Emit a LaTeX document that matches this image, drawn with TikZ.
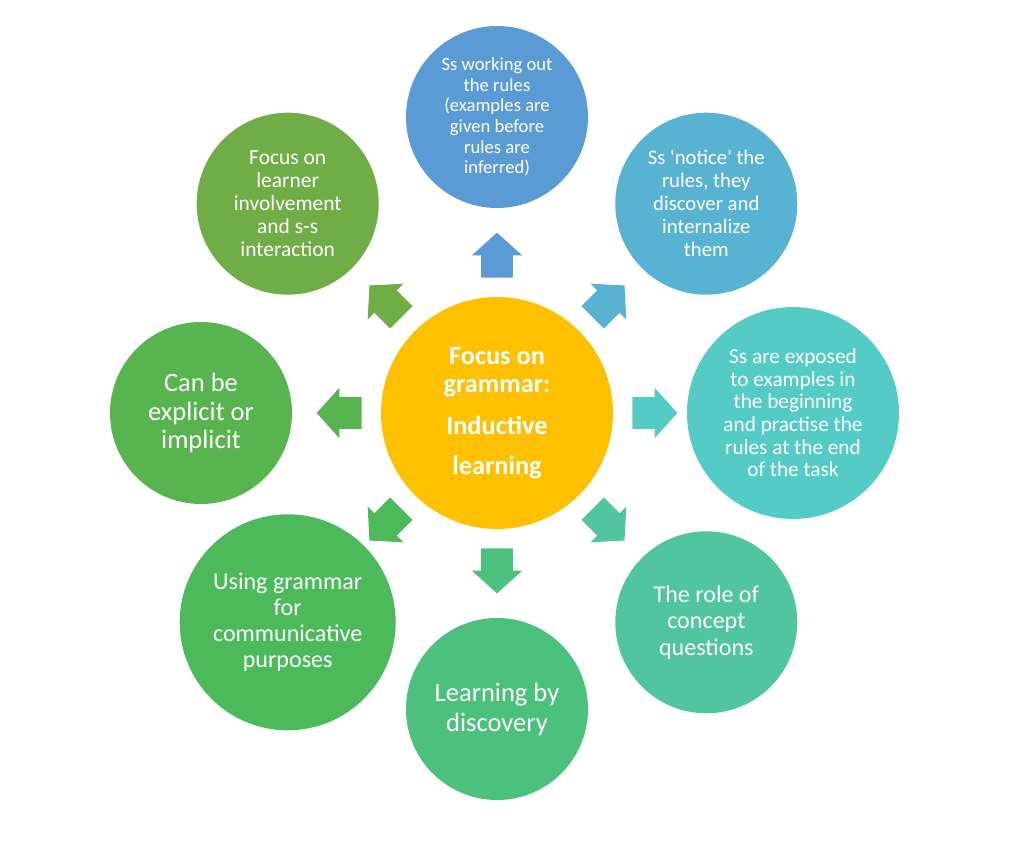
\documentclass[tikz,border=0pt]{standalone}
\usepackage{fontspec}
\setmainfont{Carlito}
\usetikzlibrary{shapes.arrows, calc}
\usepackage{xcolor}
\definecolor{hubgold}{HTML}{FFC000}
\definecolor{cRules}{HTML}{5B9BD5}
\definecolor{cNotice}{HTML}{58B3D3}
\definecolor{cExposed}{HTML}{55CBC6}
\definecolor{cConcept}{HTML}{50C5A0}
\definecolor{cDiscovery}{HTML}{4CC17D}
\definecolor{cUsage}{HTML}{4CBA5B}
\definecolor{cExplicit}{HTML}{57B44F}
\definecolor{cInvolve}{HTML}{70AD47}

\begin{document}
\begin{tikzpicture}[
  hub/.style = {circle, fill=hubgold, text=white, minimum size=4.64cm, inner sep=0pt,
                align=center, font=\bfseries\fontsize{15}{16}\selectfont},
  bub/.style = {circle, text=white, minimum size=3.64cm, inner sep=0pt, align=center},
  blk/.style = {single arrow, minimum height=0.9cm, minimum width=1cm,
                inner xsep=0pt, inner ysep=0.31cm, anchor=tail,
                single arrow head extend=0.19cm, single arrow tip angle=96},
]
\useasboundingbox (-9.94,-8.56) rectangle (10.54,8.26);

% ── Centre ───────────────────────────────────────────────────────────────────
\node[hub] (hub) at (0,0) {Focus on\\grammar:\\[7.9pt]Inductive\\[6.8pt]learning};

% ── Ring of bubbles ──────────────────────────────────────────────────────────
\node[bub, fill=cRules, font=\fontsize{10.6}{11.7}\selectfont] (rules) at (90:5.92)
  {Ss working out\\the rules\\(examples are\\given before\\rules are\\inferred)};
\node[bub, fill=cNotice, font=\fontsize{11.8}{13.1}\selectfont] (notice) at (45:5.92)
  {Ss \textquotesingle notice\textquotesingle\ the\\rules, they\\discover and\\internalize\\them};
\node[bub, fill=cExposed, minimum size=4.24cm, font=\fontsize{12.1}{12.9}\selectfont]
  (exposed) at (0:5.92)
  {Ss are exposed\\to examples in\\the beginning\\and practise the\\rules at the end\\of the task};
\node[bub, fill=cConcept, font=\fontsize{13.7}{15.2}\selectfont] (concept) at (-45:5.92)
  {The role of\\concept\\questions};
\node[bub, fill=cDiscovery, font=\fontsize{15.1}{17}\selectfont] (discovery) at (-90:5.92)
  {Learning by\\discovery};
\node[bub, fill=cUsage, minimum size=4.32cm, font=\fontsize{13.7}{14.8}\selectfont]
  (usage) at (-135:5.92)
  {Using grammar\\for\\communicative\\purposes};
\node[bub, fill=cExplicit, font=\fontsize{15.1}{16.1}\selectfont] (explicit) at (180:5.92)
  {Can be\\explicit or\\implicit};
\node[bub, fill=cInvolve, font=\fontsize{12.2}{13}\selectfont] (involve) at (135:5.92)
  {Focus on\\learner\\involvement\\and s-s\\interaction};

% ── Block arrows from the centre ─────────────────────────────────────────────
\foreach \nm/\col/\ang in {rules/cRules/90, notice/cNotice/45, exposed/cExposed/0,
                           concept/cConcept/-45, discovery/cDiscovery/-90,
                           usage/cUsage/-135, explicit/cExplicit/180, involve/cInvolve/135}
  \node[blk, fill=\col, rotate=\ang] (to\nm) at ($(hub)!2.7cm!(\nm)$) {};
\end{tikzpicture}
\end{document}
